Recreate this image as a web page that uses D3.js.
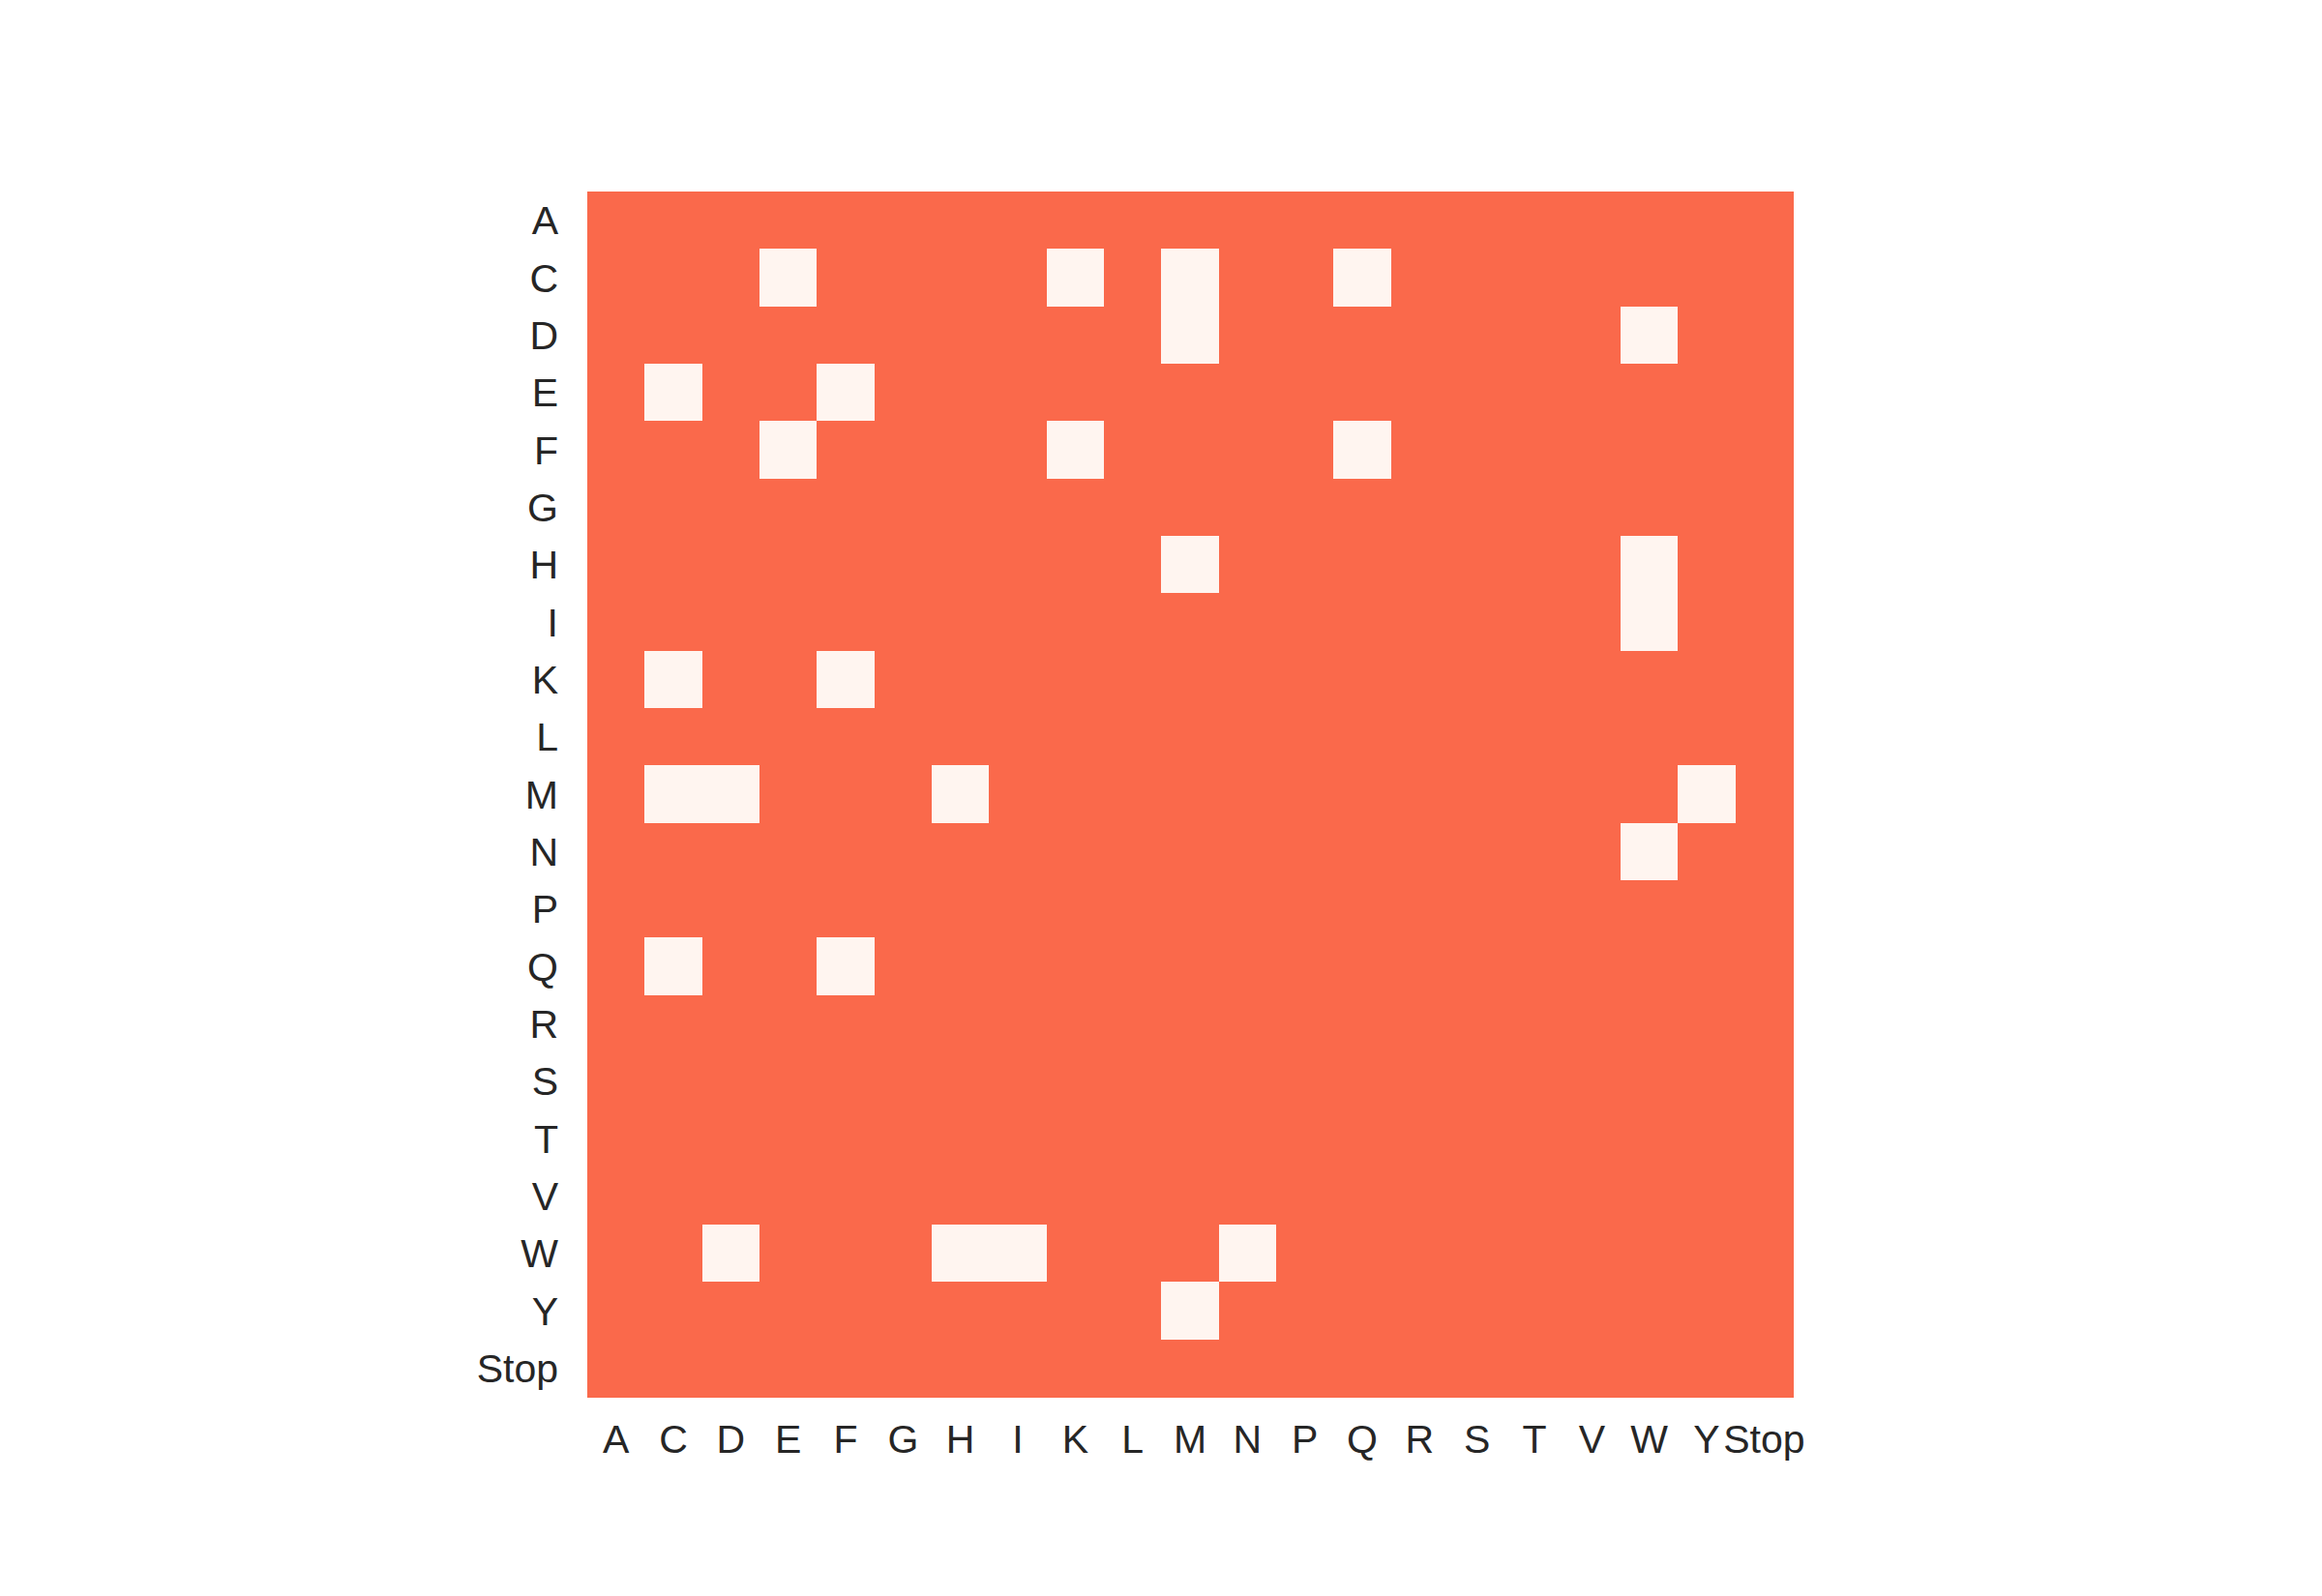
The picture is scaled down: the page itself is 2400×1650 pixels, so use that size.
<!DOCTYPE html>
<html>
<head>
<meta charset="utf-8">
<script src="https://cdn.jsdelivr.net/npm/d3@7"></script>
<style>
  html, body { margin: 0; padding: 0; background: #ffffff; }
  svg text { font-family: Arial, "Liberation Sans", sans-serif; fill: #262626; }
</style>
</head>
<body>
<svg id="chart" width="2400" height="1650"></svg>
<script>
// Categories (rows = y axis, columns = x axis)
const categories = ["A","C","D","E","F","G","H","I","K","L","M","N","P","Q","R","S","T","V","W","Y","Stop"];

// Matrix values: 1 = red cell, 0 = pale cell (row order = categories)
const values = [
  [1,1,1,1,1,1,1,1,1,1,1,1,1,1,1,1,1,1,1,1,1], // A
  [1,1,1,0,1,1,1,1,0,1,0,1,1,0,1,1,1,1,1,1,1], // C
  [1,1,1,1,1,1,1,1,1,1,0,1,1,1,1,1,1,1,0,1,1], // D
  [1,0,1,1,0,1,1,1,1,1,1,1,1,1,1,1,1,1,1,1,1], // E
  [1,1,1,0,1,1,1,1,0,1,1,1,1,0,1,1,1,1,1,1,1], // F
  [1,1,1,1,1,1,1,1,1,1,1,1,1,1,1,1,1,1,1,1,1], // G
  [1,1,1,1,1,1,1,1,1,1,0,1,1,1,1,1,1,1,0,1,1], // H
  [1,1,1,1,1,1,1,1,1,1,1,1,1,1,1,1,1,1,0,1,1], // I
  [1,0,1,1,0,1,1,1,1,1,1,1,1,1,1,1,1,1,1,1,1], // K
  [1,1,1,1,1,1,1,1,1,1,1,1,1,1,1,1,1,1,1,1,1], // L
  [1,0,0,1,1,1,0,1,1,1,1,1,1,1,1,1,1,1,1,0,1], // M
  [1,1,1,1,1,1,1,1,1,1,1,1,1,1,1,1,1,1,0,1,1], // N
  [1,1,1,1,1,1,1,1,1,1,1,1,1,1,1,1,1,1,1,1,1], // P
  [1,0,1,1,0,1,1,1,1,1,1,1,1,1,1,1,1,1,1,1,1], // Q
  [1,1,1,1,1,1,1,1,1,1,1,1,1,1,1,1,1,1,1,1,1], // R
  [1,1,1,1,1,1,1,1,1,1,1,1,1,1,1,1,1,1,1,1,1], // S
  [1,1,1,1,1,1,1,1,1,1,1,1,1,1,1,1,1,1,1,1,1], // T
  [1,1,1,1,1,1,1,1,1,1,1,1,1,1,1,1,1,1,1,1,1], // V
  [1,1,0,1,1,1,0,0,1,1,1,0,1,1,1,1,1,1,1,1,1], // W
  [1,1,1,1,1,1,1,1,1,1,0,1,1,1,1,1,1,1,1,1,1], // Y
  [1,1,1,1,1,1,1,1,1,1,1,1,1,1,1,1,1,1,1,1,1]  // Stop
];

const colorLow = "#fff5f0";
const colorHigh = "#fa694b";

const margin = {left: 607, top: 198};
const size = 1246;

const svg = d3.select("#chart");

const x = d3.scaleBand().domain(categories).range([margin.left, margin.left + size]).padding(0);
const y = d3.scaleBand().domain(categories).range([margin.top, margin.top + size]).padding(0);
const color = d3.scaleLinear().domain([0, 1]).range([colorLow, colorHigh]);

const cells = [];
values.forEach((row, i) => row.forEach((v, j) => cells.push({r: categories[i], c: categories[j], v})));

svg.append("g")
  .selectAll("rect")
  .data(cells)
  .join("rect")
  .attr("x", d => x(d.c))
  .attr("y", d => y(d.r))
  .attr("width", x.bandwidth() + 0.5)
  .attr("height", y.bandwidth() + 0.5)
  .attr("fill", d => color(d.v))
  .attr("shape-rendering", "crispEdges");

const fontSize = 41;

// X axis
const xAxis = svg.append("g")
  .attr("transform", `translate(0,${margin.top + size})`)
  .call(d3.axisBottom(x).tickSize(0).tickPadding(29));
xAxis.select(".domain").remove();
xAxis.selectAll("text")
  .style("font-size", fontSize + "px")
  .style("font-family", "Arial, 'Liberation Sans', sans-serif")
  .attr("fill", "#262626");

// Y axis
const yAxis = svg.append("g")
  .attr("transform", `translate(${margin.left},0)`)
  .call(d3.axisLeft(y).tickSize(0).tickPadding(30));
yAxis.select(".domain").remove();
yAxis.selectAll("text")
  .attr("dy", "0.36em")
  .style("font-size", fontSize + "px")
  .style("font-family", "Arial, 'Liberation Sans', sans-serif")
  .attr("fill", "#262626");
</script>
</body>
</html>
